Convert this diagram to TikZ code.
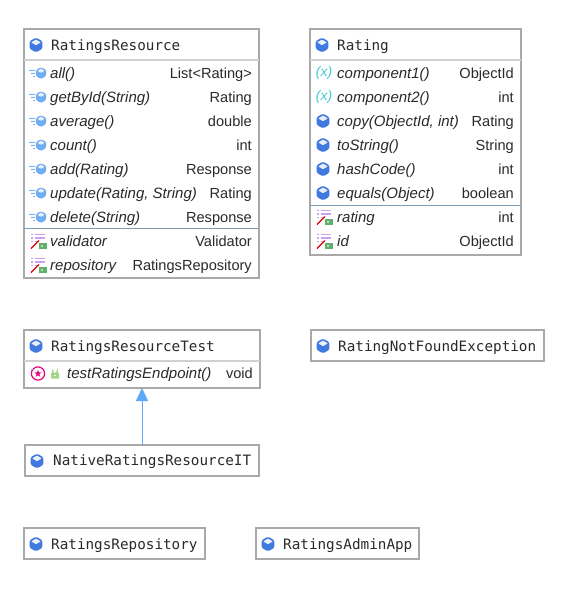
\documentclass[tikz,border=0pt]{standalone}
\usepackage{fontspec}
\setmainfont{Liberation Sans}
\setmonofont{DejaVu Sans Mono}
\usetikzlibrary{arrows.meta}
\definecolor{boxgray}{HTML}{A9A9A9}
\definecolor{cubeblue}{HTML}{4079E0}
\definecolor{methodblue}{HTML}{6FAEF2}
\definecolor{fieldpurple}{HTML}{CFA0EE}
\definecolor{teal}{HTML}{45CBD6}
\definecolor{arrowblue}{HTML}{5FA8F8}
\definecolor{inkblack}{HTML}{2A2A2A}
\definecolor{lockgreen}{HTML}{A6D58A}
\definecolor{fieldgreen}{HTML}{5FAE6A}
\definecolor{sepblue}{HTML}{7C9CB8}
\tikzset{
	x=1pt,y=-1pt,
	classbox/.style={draw=boxgray,line width=2.2pt,fill=white,anchor=north west,inner sep=0pt,outer sep=0pt},
	titletext/.style={anchor=base west,inner sep=0pt,text=inkblack,font=\ttfamily\fontsize{14.3}{14}\selectfont},
	nametext/.style={anchor=base west,inner sep=0pt,text=inkblack,font=\itshape\fontsize{15}{14}\selectfont},
	typetext/.style={anchor=base east,inner sep=0pt,text=inkblack,font=\fontsize{14.6}{14}\selectfont},
	headline/.style={draw=boxgray!55,line width=1.2pt},
	fieldline/.style={draw=sepblue,line width=1pt},
	extends/.style={draw=arrowblue,line width=1pt,-{Triangle[width=12pt,length=13pt]}},
	cube/.pic={
		\fill[cubeblue,rounded corners=1.5pt] (0,-7.4) -- (6.4,-3.8) -- (6.4,3.8) -- (0,7.4) -- (-6.4,3.8) -- (-6.4,-3.8) -- cycle;
		\fill[white!88!cubeblue,rounded corners=.6pt] (0,-5.4) -- (4.8,-2.6) -- (0,.2) -- (-4.8,-2.6) -- cycle;
	},
	methodicon/.pic={
		\fill[methodblue,rounded corners=1.5pt] (4,-6) -- (9.2,-3) -- (9.2,3) -- (4,6) -- (-1.2,3) -- (-1.2,-3) -- cycle;
		\fill[white!82!methodblue,rounded corners=.5pt] (4,-4.3) -- (7.6,-2.2) -- (4,-.1) -- (.4,-2.2) -- cycle;
		\draw[methodblue,line width=1pt] (-8,-3) -- (-2,-3) (-6,0) -- (-2,0) (-4,3) -- (-2,3);
	},
	fieldicon/.pic={
		\draw[fieldpurple,line width=1.1pt] (-7,-6.5) -- (-5,-6.5) (-3.5,-6.5) -- (7,-6.5) (-7,-3) -- (-5,-3) (-3.5,-3) -- (7,-3) (-7,.5) -- (-5,.5) (-3.5,.5) -- (0,.5);
		\draw[red!85!black,line width=1.4pt] (-7,7.5) -- (1,-.5);
		\fill[fieldgreen] (1,1.5) rectangle (8.5,8);
		\fill[white!60!fieldgreen] (3,3.5) rectangle (5,5.5);
	},
	testicon/.pic={
		\draw[magenta!85!red,line width=1.2pt] (0,0) circle (6.6);
		\fill[magenta!85!red] (0,-3.6) -- (1,-1.1) -- (3.6,-1.1) -- (1.5,.6) -- (2.2,3.2) -- (0,1.8) -- (-2.2,3.2) -- (-1.5,.6) -- (-3.6,-1.1) -- (-1,-1.1) -- cycle;
		\draw[methodblue,line width=.8pt] (-7.5,-4) -- (-5,-4);
	},
	lockicon/.pic={
		\fill[lockgreen,rounded corners=.6pt] (-4,-.5) rectangle (4,5);
		\draw[lockgreen,line width=1.2pt] (-2.2,-.5) -- (-2.2,-2.2) arc (180:0:2.2) -- (2.2,-.5);
		\fill[white] (-.8,1.2) rectangle (.8,2.8);
	},
	xicon/.pic={
		\node[inner sep=0pt,text=teal,font=\itshape\fontsize{14}{14}\selectfont] {(x)};
	}
}
\begin{document}
\begin{tikzpicture}
	\useasboundingbox (0,0) rectangle (579,600);

	% class boxes
	\node[classbox,minimum width=235pt,minimum height=249pt] (resource) at (24,29) {};
	\node[classbox,minimum width=211pt,minimum height=226pt] (rating) at (310,29) {};
	\node[classbox,minimum width=236pt,minimum height=58pt] (test) at (24,330) {};
	\node[classbox,minimum width=233pt,minimum height=31pt] (notfound) at (311,330) {};
	\node[classbox,minimum width=234pt,minimum height=31pt] (native) at (25,445) {};
	\node[classbox,minimum width=181pt,minimum height=31pt] (repository) at (24,528) {};
	\node[classbox,minimum width=163pt,minimum height=31pt] (adminapp) at (256,528) {};

	% separators
	\draw[headline] (resource.west |- 0,60) -- (resource.east |- 0,60);
	\draw[fieldline] (resource.west |- 0,228.5) -- (resource.east |- 0,228.5);
	\draw[headline] (rating.west |- 0,60) -- (rating.east |- 0,60);
	\draw[fieldline] (rating.west |- 0,205) -- (rating.east |- 0,205);
	\draw[headline] (test.west |- 0,361) -- (test.east |- 0,361);

	% titles
	\pic at (36,45) {cube};
	\node[titletext] (resourcetitle) at (51,50) {RatingsResource};
	\pic at (322,45) {cube};
	\node[titletext] (ratingtitle) at (337,50) {Rating};
	\pic at (36,346) {cube};
	\node[titletext] (testtitle) at (51,351) {RatingsResourceTest};
	\pic at (323,346) {cube};
	\node[titletext] (notfoundtitle) at (338,351) {RatingNotFoundException};
	\pic at (37,461) {cube};
	\node[titletext] (nativetitle) at (53,465) {NativeRatingsResourceIT};
	\pic at (36,544) {cube};
	\node[titletext] (repositorytitle) at (51,549) {RatingsRepository};
	\pic at (268,544) {cube};
	\node[titletext] (adminapptitle) at (283,549) {RatingsAdminApp};

	% RatingsResource rows
	\foreach \i/\nm/\tp/\yy in {1/all()/List<Rating>/73,2/getById(String)/Rating/97,3/average()/double/121,4/count()/int/145,5/add(Rating)/Response/169,6/{update(Rating, String)}/Rating/193,7/delete(String)/Response/217}{
		\pic at (37,\yy) {methodicon};
		\node[nametext] (resname\i) at (50,\yy+5) {\nm};
		\node[typetext] (restype\i) at (252,\yy+5) {\tp};
	}
	\foreach \i/\nm/\tp/\yy in {8/validator/Validator/241,9/repository/RatingsRepository/265}{
		\pic at (38,\yy) {fieldicon};
		\node[nametext] (resname\i) at (50,\yy+5) {\nm};
		\node[typetext] (restype\i) at (252,\yy+5) {\tp};
	}

	% Rating rows
	\foreach \i/\nm/\tp/\yy in {1/component1()/ObjectId/73,2/component2()/int/97}{
		\pic at (324,\yy) {xicon};
		\node[nametext] (ratname\i) at (337,\yy+5) {\nm};
		\node[typetext] (rattype\i) at (514,\yy+5) {\tp};
	}
	\foreach \i/\nm/\tp/\yy in {3/{copy(ObjectId, int)}/Rating/121,4/toString()/String/145,5/hashCode()/int/169,6/equals(Object)/boolean/193}{
		\pic at (323,\yy) {cube};
		\node[nametext] (ratname\i) at (337,\yy+5) {\nm};
		\node[typetext] (rattype\i) at (514,\yy+5) {\tp};
	}
	\foreach \i/\nm/\tp/\yy in {7/rating/int/217,8/id/ObjectId/241}{
		\pic at (324,\yy) {fieldicon};
		\node[nametext] (ratname\i) at (337,\yy+5) {\nm};
		\node[typetext] (rattype\i) at (514,\yy+5) {\tp};
	}

	% RatingsResourceTest row
	\pic at (38,373.5) {testicon};
	\pic at (55,373.5) {lockicon};
	\node[nametext] (testname) at (67,378) {testRatingsEndpoint()};
	\node[typetext] (testtype) at (253,378) {void};

	\draw[extends] (native) -- (test);
\end{tikzpicture}
\end{document}
